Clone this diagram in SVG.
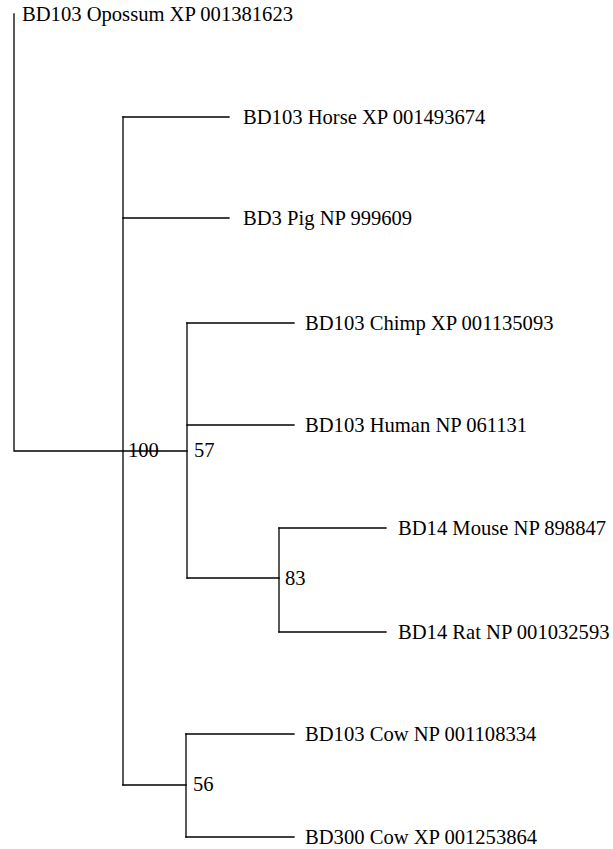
<svg xmlns="http://www.w3.org/2000/svg" width="613" height="849" viewBox="0 0 613 849">
<style>
text{font-family:"Liberation Serif","Times New Roman",serif;font-size:20.6px;fill:#000}
.e{stroke:#000;stroke-width:1.3;fill:none;stroke-linecap:square}
</style>
<rect width="613" height="849" fill="#fff"/>
<g id="connectors">
<path class="e" d="M14,14 V451 H187"/>
<path class="e" d="M123,117 V785"/>
<path class="e" d="M123,117 H229"/>
<path class="e" d="M123,218 H229"/>
<path class="e" d="M187,323 V578"/>
<path class="e" d="M187,323 H294"/>
<path class="e" d="M187,425 H294"/>
<path class="e" d="M187,578 H279"/>
<path class="e" d="M279,528 V632"/>
<path class="e" d="M279,528 H386"/>
<path class="e" d="M279,632 H386"/>
<path class="e" d="M123,785 H186"/>
<path class="e" d="M186,734 V837"/>
<path class="e" d="M186,734 H294"/>
<path class="e" d="M186,837 H294"/>
</g>
<g id="opossum"><text x="22" y="21">BD103 Opossum XP 001381623</text></g>
<g id="horse"><text x="243" y="124">BD103 Horse XP 001493674</text></g>
<g id="pig"><text x="243" y="225">BD3 Pig NP 999609</text></g>
<g id="chimp"><text x="305" y="330">BD103 Chimp XP 001135093</text></g>
<g id="human"><text x="305" y="432">BD103 Human NP 061131</text></g>
<g id="mouse"><text x="398" y="535">BD14 Mouse NP 898847</text></g>
<g id="rat"><text x="398" y="639">BD14 Rat NP 001032593</text></g>
<g id="cow1"><text x="305" y="741">BD103 Cow NP 001108334</text></g>
<g id="cow2"><text x="305" y="844">BD300 Cow XP 001253864</text></g>
<g id="node100"><text x="128" y="457">100</text></g>
<g id="node57"><text x="194" y="457">57</text></g>
<g id="node83"><text x="285" y="585">83</text></g>
<g id="node56"><text x="193" y="791">56</text></g>
</svg>
